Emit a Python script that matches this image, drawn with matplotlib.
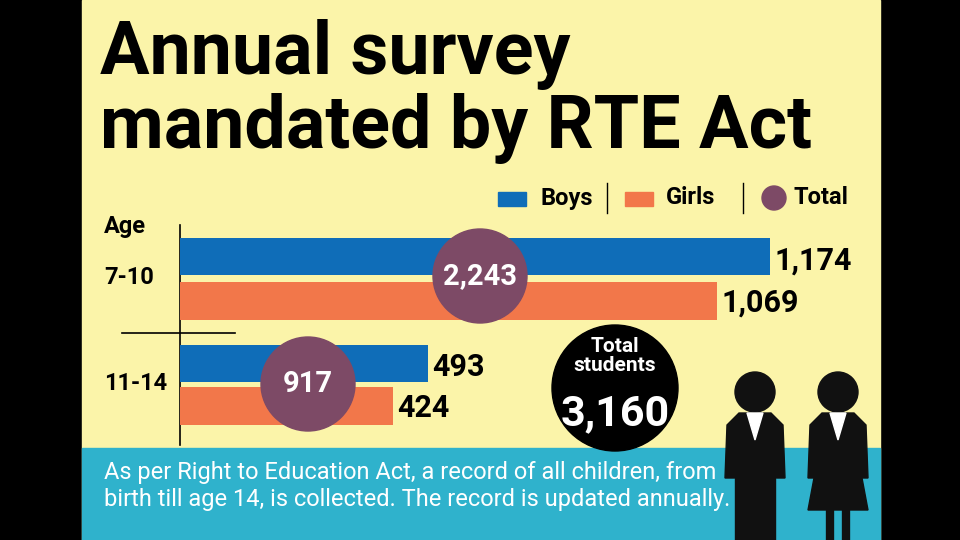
import matplotlib
matplotlib.use("Agg")
import matplotlib.pyplot as plt
from matplotlib.patches import Circle, Rectangle, Polygon

ages = ["7-10", "11-14"]
boys = [1174, 493]
girls = [1069, 424]
totals = [2243, 917]
grand_total = 3160

YEL = "#FBF4A9"; BLUE = "#0F6DB8"; ORANGE = "#F2774A"; PURPLE = "#7D4A66"; TEAL = "#2FB2CC"

fig = plt.figure(figsize=(9.6, 5.4), dpi=100)
fig.patch.set_facecolor("black")
bg = fig.add_axes([0, 0, 1, 1]); bg.set_xlim(0, 960); bg.set_ylim(540, 0); bg.axis("off")
bg.add_patch(Rectangle((82, 0), 798, 540, color=YEL, zorder=0))
bg.add_patch(Rectangle((82, 448), 798, 92, color=TEAL, zorder=0))
F = "Roboto"
bg.text(100, 55, "Annual survey", fontsize=53, fontweight="bold", family=F, va="center")
bg.text(100, 128, "mandated by RTE Act", fontsize=53, fontweight="bold", family=F, va="center")
bg.text(104, 226, "Age", fontsize=17, fontweight="bold", family=F, va="center")
bg.text(104, 278, "7-10", fontsize=17, fontweight="bold", family=F, va="center")
bg.text(104, 384, "11-14", fontsize=17, fontweight="bold", family=F, va="center")
bg.add_patch(Rectangle((498, 192), 28, 14, color=BLUE))
bg.text(540, 198, "Boys", fontsize=17, fontweight="bold", family=F, va="center")
bg.plot([607, 607], [183, 213], color="black", lw=1)
bg.add_patch(Rectangle((625, 192), 28, 14, color=ORANGE))
bg.text(666, 198, "Girls", fontsize=17, fontweight="bold", family=F, va="center")
bg.plot([743, 743], [183, 213], color="black", lw=1)
bg.add_patch(Circle((774, 198), 12, color=PURPLE))
bg.text(794, 198, "Total", fontsize=17, fontweight="bold", family=F, va="center")
bg.plot([180, 180], [225, 445], color="black", lw=1.2)
bg.plot([122, 235], [333, 333], color="black", lw=1.2)
bg.text(104, 486, "As per Right to Education Act, a record of all children, from\nbirth till age 14, is collected. The record is updated annually.",
        fontsize=17, color="white", family=F, va="center", linespacing=1.2)
for cx, skirt in [(755, False), (838, True)]:
    bg.add_patch(Circle((cx, 392), 20, color="#111"))
    bg.add_patch(Polygon([(cx-30, 478), (cx-28, 425), (cx-16, 413), (cx+16, 413), (cx+28, 425), (cx+30, 478)], color="#111"))
    if skirt:
        bg.add_patch(Polygon([(cx-24, 478), (cx+24, 478), (cx+30, 510), (cx-30, 510)], color="#111"))
        bg.plot([cx-8, cx-8], [510, 540], color="#111", lw=6); bg.plot([cx+8, cx+8], [510, 540], color="#111", lw=6)
    else:
        bg.add_patch(Rectangle((cx-20, 478), 40, 62, color="#111"))
    bg.add_patch(Polygon([(cx-8, 413), (cx+8, 413), (cx, 440)], color="white"))

W = 1400 * 590 / 1174
ax = fig.add_axes([180/960, (540-430)/540, W/960, (430-233)/540])
ax.set_xlim(0, 1400); ax.set_ylim(430, 233); ax.axis("off"); ax.patch.set_alpha(0)
yb = [256.5, 363.5]; yg = [301, 406.5]
ax.barh(yb, boys, height=37, color=BLUE)
ax.barh(yg, girls, height=38, color=ORANGE)
for i in range(2):
    ax.text(boys[i] + 8, yb[i] + 4, f"{boys[i]:,}", fontsize=22, fontweight="bold", family=F, va="center")
    ax.text(girls[i] + 8, yg[i] + 2, f"{girls[i]:,}", fontsize=22, fontweight="bold", family=F, va="center")

top = fig.add_axes([0, 0, 1, 1]); top.set_xlim(0, 960); top.set_ylim(540, 0); top.axis("off"); top.patch.set_alpha(0)
for (cx, cy), t in zip([(480, 276), (308, 384)], totals):
    top.add_patch(Circle((cx, cy), 47, color=PURPLE, zorder=5))
    top.text(cx, cy, f"{t:,}", fontsize=21, fontweight="bold", color="white", family=F, ha="center", va="center", zorder=6)
top.add_patch(Circle((615, 388), 63, color="black", zorder=5))
top.text(615, 356, "Total\nstudents", fontsize=15, fontweight="bold", color="white", family=F, ha="center", va="center", zorder=6, linespacing=0.95)
top.text(615, 414, f"{grand_total:,}", fontsize=31, fontweight="bold", color="white", family=F, ha="center", va="center", zorder=6)
fig.savefig("out.png", dpi=100, facecolor=fig.get_facecolor())
